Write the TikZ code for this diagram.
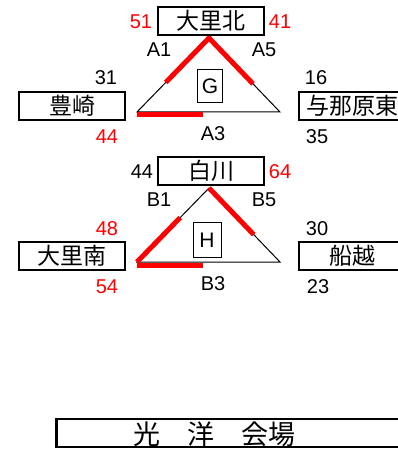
\documentclass[tikz,border=0pt]{standalone}
\usepackage{fontspec}
\setmainfont{Liberation Sans}
\newfontfamily\jp{Noto Sans CJK JP}
\usetikzlibrary{calc}
\tikzset{
  venue/.style={draw, line width=2.8pt, minimum width=106pt, minimum height=28pt, inner sep=0pt, font=\jp\fontsize{23}{23}\selectfont},
  num/.style={inner sep=0pt, font=\fontsize{20}{20}\selectfont},
  rednum/.style={num, text=red},
  court/.style={draw, line width=1pt, inner sep=0pt, minimum width=25pt, minimum height=33pt, font=\fontsize{21}{21}\selectfont},
  win/.style={red, line width=5pt}
}
\begin{document}
\begin{tikzpicture}[x=1pt,y=-1pt]
	\clip (0,0) rectangle (398,449);
	% block G
	\coordinate (ga) at (209,38);
	\coordinate (gl) at (137,112);
	\coordinate (gr) at (280,112);
	\draw[line width=1pt] (ga) -- (gl) -- (gr) -- cycle;%Dreieck G
	\draw[win] ($(ga)!0.6!(gl)$) -- (ga) -- ($(ga)!0.62!(gr)$);%A1, A5
	\draw[win] ([yshift=-3pt]gl) -- ([yshift=-3pt]$(gl)!0.46!(gr)$);%A3
	\node[court] (g) at (210,86) {G};

	\node[venue] (ooriN) at (211,21) {大里北};
	\node[venue] (toyo) at (72,106) {豊崎};
	\node[venue] (yona) at (352,106) {与那原東};
	\node[rednum] at (141,22) {51};
	\node[rednum] at (280,22) {41};
	\node[num] at (159,50) {A1};
	\node[num] at (264,50) {A5};
	\node[num] at (213,134) {A3};
	\node[num] at (106,78) {31};
	\node[rednum] at (107,137) {44};
	\node[num] at (316,78) {16};
	\node[num] at (317,137) {35};

	% block H
	\coordinate (ha) at (209,188);
	\coordinate (hl) at (137,262);
	\coordinate (hr) at (280,262);
	\draw[line width=1pt] (ha) -- (hl) -- (hr) -- cycle;%Dreieck H
	\draw[win] (hl) -- ($(hl)!0.6!(ha)$);%B1
	\draw[win] (ha) -- ($(ha)!0.63!(hr)$);%B5
	\draw[win] ([yshift=-3pt]hl) -- ([yshift=-3pt]$(hl)!0.46!(hr)$);%B3
	\node[court, minimum width=28pt, minimum height=35pt] (h) at (207,240) {H};

	\node[venue] (shira) at (211,171) {白川};
	\node[venue] (ooriS) at (72,256) {大里南};
	\node[venue] (funa) at (352,256) {船越};
	\node[num] at (142,172) {44};
	\node[rednum] at (280,172) {64};
	\node[num] at (159,200) {B1};
	\node[num] at (264,200) {B5};
	\node[num] at (213,284) {B3};
	\node[rednum] at (107,229) {48};
	\node[rednum] at (107,287) {54};
	\node[num] at (317,229) {30};
	\node[num] at (318,287) {23};

	% Kaijo
	\node[venue, minimum width=370pt, anchor=west] (kouyou) at (55,433) {};
	\node[inner sep=0pt, font=\jp\fontsize{27}{27}\selectfont] (kouyouname) at (214,434) {光　洋　会場};
\end{tikzpicture}
\end{document}
